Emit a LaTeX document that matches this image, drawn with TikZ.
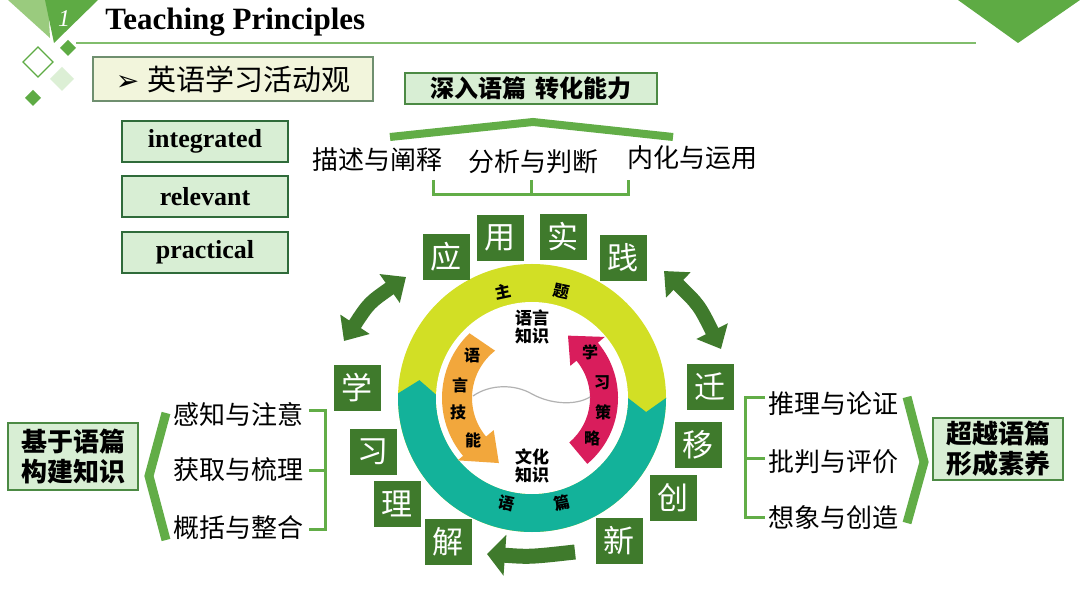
\documentclass[tikz,border=0pt]{standalone}
\usepackage{fontspec}
\setmainfont{Liberation Serif}
\newfontfamily\cjk{Noto Sans CJK SC}
\newfontfamily\dejavu{DejaVu Sans}
\usetikzlibrary{arrows.meta}
\definecolor{dg}{HTML}{3F7A2C}
\definecolor{lg}{HTML}{62AD47}
\definecolor{boxfill}{HTML}{D8EED4}
\definecolor{boxdraw}{HTML}{4C8A44}
\definecolor{enboxdraw}{HTML}{2F6B3A}
\definecolor{cream}{HTML}{F2F5DC}
\definecolor{creamdraw}{HTML}{6F8F6F}
\definecolor{lime}{HTML}{D2DF25}
\definecolor{ringteal}{HTML}{13B29A}
\definecolor{orng}{HTML}{F2A73C}
\definecolor{mag}{HTML}{D91D5C}
\definecolor{tri}{HTML}{5EAB44}
\definecolor{trilight}{HTML}{9ACB7E}
\definecolor{palediam}{HTML}{DCEFD5}
\begin{document}
\begin{tikzpicture}[x=0.5pt,y=-0.5pt,
  sq/.style={fill=dg, minimum width=23.5pt, minimum height=23pt, inner sep=0pt, text=white, font=\cjk\fontsize{15.5}{16}\selectfont},
  lbl/.style={font=\cjk\fontsize{13}{14}\selectfont, inner sep=0pt},
  gbox/.style={fill=boxfill, draw=boxdraw, line width=0.8pt, inner sep=0pt, align=center},
  enbox/.style={fill=boxfill, draw=enboxdraw, line width=1pt, minimum width=83pt, minimum height=20.5pt, inner sep=0pt, font=\bfseries\fontsize{13}{14}\selectfont},
  brk/.style={draw=lg, line width=1.5pt},
  chev/.style={draw=lg, line width=4.5pt, line join=miter, miter limit=20},
  ringlbl/.style={font=\cjk\bfseries\fontsize{8}{8}\selectfont, inner sep=0pt},
  innerlbl/.style={font=\cjk\bfseries\fontsize{8.5}{9}\selectfont, inner sep=0pt, align=center},
  arrlbl/.style={font=\cjk\bfseries\fontsize{8}{8}\selectfont, inner sep=0pt},
  dblarr/.style={draw=dg, line width=7pt, {Triangle[width=17pt,length=10pt]}-{Triangle[width=17pt,length=10pt]}},
  onearr/.style={draw=dg, line width=7.5pt, -{Triangle[width=20pt,length=9pt]}}
]
\useasboundingbox (0,0) rectangle (1080,608);
\fill[white] (0,0) rectangle (1080,608);
% header decoration
\fill[trilight] (8,0) -- (48,0) -- (50,38) -- cycle;
\fill[tri] (45,0) -- (98,0) -- (54,43) -- cycle;
\node[text=white, font=\itshape\fontsize{12}{12}\selectfont] (num) at (64,19) {1};
\fill[tri] (68,40) -- (76,48) -- (68,56) -- (60,48) -- cycle;
\draw[tri, line width=0.6pt] (38,47) -- (53,62) -- (38,77) -- (23,62) -- cycle;
\fill[palediam] (62,67) -- (74,79) -- (62,91) -- (50,79) -- cycle;
\fill[tri] (33,90) -- (41,98) -- (33,106) -- (25,98) -- cycle;
\draw[lg!80, line width=0.7pt] (76,43) -- (976,43);
\fill[tri] (958,0) -- (1080,0) -- (1018,43) -- cycle;
\node[anchor=west, font=\bfseries\fontsize{15.5}{16}\selectfont, inner sep=0pt] (title) at (105,22) {Teaching Principles};
% top boxes
\node[fill=cream, draw=creamdraw, line width=0.8pt, minimum width=140pt, minimum height=22pt, inner sep=0pt,
  font=\cjk\fontsize{14.5}{15}\selectfont] (huodong) at (233,79) {{\dejavu\fontsize{14}{14}\selectfont ➢}\hspace{4pt}英语学习活动观};
\node[gbox, minimum width=126pt, minimum height=15.5pt, font=\cjk\bfseries\fontsize{12}{13}\selectfont] (shenru) at (531,88.5) {深入语篇\hspace{5pt}转化能力};
\draw[lg, line width=4pt, line join=miter] (390,137) -- (533,122) -- (673,137);
\node[lbl] (t1) at (377,160) {描述与阐释};
\node[lbl] (t2) at (533,162) {分析与判断};
\node[lbl] (t3) at (692,158) {内化与运用};
\coordinate (b1) at (433,180);
\coordinate (b2) at (531,180);
\coordinate (b3) at (628,180);
\draw[brk] (b1) -- (433,195) -- (628,195) -- (b3);
\draw[brk] (b2) -- (531,195);
% english boxes
\node[enbox] (integ) at (205,141.5) {integrated};
\node[enbox] (relev) at (205,197) {relevant};
\node[enbox] (pract) at (205,252.5) {practical};
% ring
\begin{scope}[shift={(532,398)}]
\fill[lime] (0,0) circle[radius=134];
\fill[ringteal] (0:134) arc[start angle=0, end angle=182, radius=134] -- (189:114) -- (182:96)
  arc[start angle=182, end angle=0, radius=96] -- (7:115) -- cycle;
\fill[white] (0,0) circle[radius=96];
\fill[orng] (232:60) -- (226:90) arc[start angle=226, end angle=140, radius=90] -- (140:97) -- (117:73) -- (140:50) -- (140:60)
  arc[start angle=140, end angle=232, radius=60] -- cycle;
\fill[mag] (50:58) -- (50:86) arc[start angle=50, end angle=-40, radius=86] -- (-40:95) -- (-60:72) -- (-40:50) -- (-40:58)
  arc[start angle=-40, end angle=50, radius=58] -- cycle;
\end{scope}
\node[ringlbl, rotate=12] (zhu) at (503,292) {主};
\node[ringlbl, rotate=-12] (ti) at (562,292) {题};
\node[ringlbl, rotate=-12] (yu) at (507,503) {语};
\node[ringlbl, rotate=12] (pian) at (562,503) {篇};
\node[innerlbl] (yyzs) at (532,327) {语言\\知识};
\node[innerlbl] (whzs) at (532,466) {文化\\知识};
\node[arrlbl] (o1) at (472,355) {语};
\node[arrlbl] (o2) at (460,385) {言};
\node[arrlbl] (o3) at (458,412) {技};
\node[arrlbl] (o4) at (473,440) {能};
\node[arrlbl] (r1) at (590,352) {学};
\node[arrlbl] (r2) at (602,383) {习};
\node[arrlbl] (r3) at (603,412) {策};
\node[arrlbl] (r4) at (592,438) {略};
\coordinate (w1) at (473,396);
\coordinate (w2) at (532,394);
\coordinate (w3) at (590,397);
\draw[gray!60, line width=0.6pt] (w1) .. controls (490,384) and (515,384) .. (w2) .. controls (550,404) and (575,406) .. (w3);
% squares
\node[sq] (ying) at (446,257) {应};
\node[sq] (yong) at (500,238) {用};
\node[sq] (shi) at (563,237) {实};
\node[sq] (jian) at (623,258) {践};
\node[sq] (xue) at (357,388) {学};
\node[sq] (xi) at (373,452) {习};
\node[sq] (li) at (397,504) {理};
\node[sq] (jie) at (448,542) {解};
\node[sq] (xin) at (619,541) {新};
\node[sq] (qian) at (710,387) {迁};
\node[sq] (yi) at (698,445) {移};
\node[sq] (chuang) at (673,498) {创};
% big arrows
\coordinate (la1) at (344,341);
\coordinate (la2) at (406,277);
\draw[dblarr] (la1) .. controls (369,303) .. (la2);
\coordinate (ra1) at (664,271);
\coordinate (ra2) at (721,349);
\draw[dblarr] (ra1) .. controls (699,305) .. (ra2);
\coordinate (ba1) at (575,552);
\coordinate (ba2) at (487,554);
\draw[onearr] (ba1) .. controls (530,557) .. (ba2);
% left side
\node[gbox, minimum width=65pt, minimum height=33.5pt, font=\cjk\bfseries\fontsize{13}{15}\selectfont] (jiyu) at (73,456.5) {基于语篇\\构建知识};
\draw[chev] (166,413) -- (149,476) -- (166,540);
\node[lbl] (l1) at (238,414) {感知与注意};
\node[lbl] (l2) at (238,470) {获取与梳理};
\node[lbl] (l3) at (238,528) {概括与整合};
\draw[brk] (309,411) -- (325,411) -- (325,529) -- (309,529);
\draw[brk] (309,470) -- (325,470);
% right side
\draw[brk] (765,398) -- (745,398) -- (745,517) -- (765,517);
\draw[brk] (745,458) -- (765,458);
\node[lbl] (rr1) at (833,404) {推理与论证};
\node[lbl] (rr2) at (833,462) {批判与评价};
\node[lbl] (rr3) at (833,518) {想象与创造};
\draw[chev] (907,397) -- (924,462) -- (907,523);
\node[gbox, minimum width=65pt, minimum height=31pt, font=\cjk\bfseries\fontsize{13}{15}\selectfont] (chaoyue) at (998,449) {超越语篇\\形成素养};
\end{tikzpicture}
\end{document}
